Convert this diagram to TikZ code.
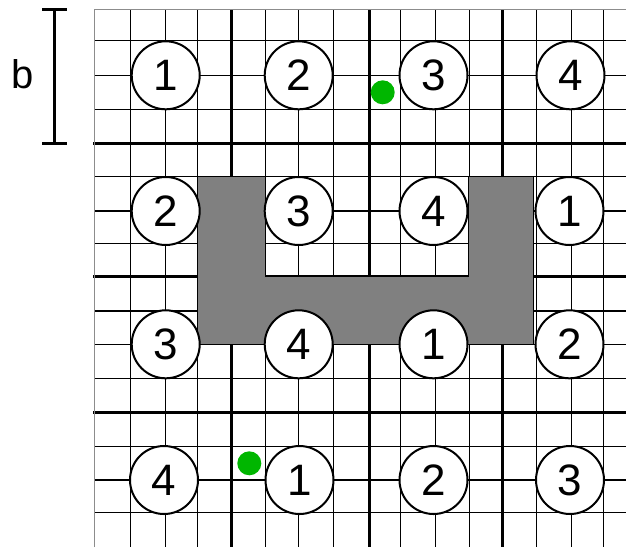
\documentclass[tikz,border=0pt]{standalone}
\usepackage{fontspec}
\setmainfont{Liberation Sans}
\definecolor{dotgreen}{RGB}{0,182,0}
\definecolor{blockgray}{RGB}{128,128,128}
\begin{document}
\begin{tikzpicture}[x=1pt,y=-1pt,
  fineline/.style={line width=1.1pt,black},
  heavyline/.style={line width=3pt,black},
  borderline/.style={line width=1pt,black!45},
  numc/.style={circle,draw,line width=2pt,fill=white,minimum size=68pt,inner sep=0pt,
    font=\fontsize{44}{44}\selectfont},
  dotc/.style={fill=dotgreen},
  bar/.style={line width=3pt,black}]
\useasboundingbox (0,0) rectangle (626,547);
% fine grid
\foreach \x in {130.7,165.7,197.7,265.7,298.7,333.7,400.3,435.7,469.3,536.3,571.7,603.3}
  \draw[fineline] (\x,9.5) -- (\x,547);
\foreach \y in {40.3,75.3,109.3,176.5,211,243.3,311,344.3,378.5,446.7,480,512.3}
  \draw[fineline] (94.7,\y) -- (626,\y);
% heavy grid
\foreach \x in {231,369.3,502.3}
  \draw[heavyline] (\x,9.5) -- (\x,547);
\foreach \y in {143,276.7,412.3}
  \draw[heavyline] (93,\y) -- (626,\y);
% border
\draw[borderline] (94.7,547) -- (94.7,9.5) -- (626,9.5);
% gray block
\draw[fill=blockgray,draw=black,line width=0.8pt]
  (197.7,176.5) -- (265,176.5) -- (265,276.7) -- (468,276.7) -- (468,176.5)
  -- (533.5,176.5) -- (533.5,344.3) -- (197.7,344.3) -- cycle;
% scale bar
\coordinate (bt) at (54.3,9.3);
\coordinate (bb) at (54.3,143.3);
\draw[bar] ([xshift=-12pt]bt) -- ([xshift=12.4pt]bt);
\draw[bar] (bt) -- (bb);
\draw[bar] ([xshift=-12pt]bb) -- ([xshift=12.4pt]bb);
\node[font=\fontsize{40}{40}\selectfont,inner sep=0pt] (blab) at (22.5,73.8) {b};
% circles
\node[numc] (r1c1) at (165.7,75.3) {1};
\node[numc] (r1c2) at (298.7,75.3) {2};
\node[numc] (r1c3) at (433.5,75.3) {3};
\node[numc] (r1c4) at (570.5,75.3) {4};
\node[numc] (r2c1) at (165.7,211) {2};
\node[numc] (r2c2) at (298.7,211) {3};
\node[numc] (r2c3) at (433.5,211) {4};
\node[numc] (r2c4) at (569.5,211) {1};
\node[numc] (r3c1) at (165.7,344.3) {3};
\node[numc] (r3c2) at (298.7,344.3) {4};
\node[numc] (r3c3) at (433.5,344.3) {1};
\node[numc] (r3c4) at (569.5,344.3) {2};
\node[numc] (r4c1) at (164,480) {4};
\node[numc] (r4c2) at (299.5,480) {1};
\node[numc] (r4c3) at (433.5,480) {2};
\node[numc] (r4c4) at (570,480) {3};
% green dots
\fill[dotc] (382.7,92.3) circle (12);
\fill[dotc] (249.3,463.3) circle (12);
\end{tikzpicture}
\end{document}
